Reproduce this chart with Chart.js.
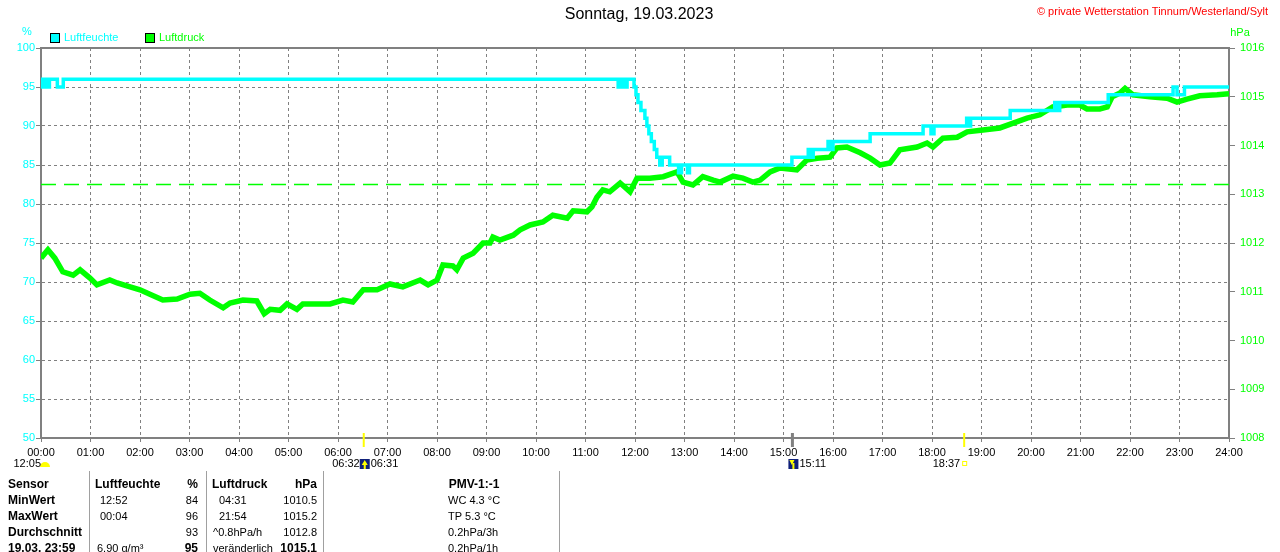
<!DOCTYPE html>
<html>
<head>
<meta charset="utf-8">
<script src="https://cdn.jsdelivr.net/npm/chart.js@4/dist/chart.umd.min.js"></script>
<style>
  html, body { margin: 0; padding: 0; background: #fff; overflow: hidden; }
  canvas { display: block; }
</style>
</head>
<body>
<canvas id="wetter" width="1280" height="552"></canvas>
<script>
// --- Daten (Stunden seit Mitternacht) ---
const TITLE = 'Sonntag, 19.03.2023';
const COPYRIGHT = '\u00a9 private Wetterstation Tinnum/Westerland/Sylt';
const SERIES = ['Luftfeuchte', 'Luftdruck'];
const UNITS = ['%', 'hPa'];

// Luftfeuchte % (Wert gilt ab dem Zeitpunkt bis zum nächsten)
const humT = [0, 0.03, 0.06, 0.1, 0.14, 0.17, 0.33, 0.45, 11.66, 11.69, 11.72, 11.76, 11.8, 11.84, 11.98,
  12.02, 12.06, 12.12, 12.2, 12.24, 12.28, 12.33, 12.39, 12.44, 12.5, 12.55, 12.7, 12.88, 12.94, 13.06, 13.1,
  15.17, 15.5, 15.56, 15.6, 15.9, 15.95, 16.0, 16.75, 17.82, 17.98, 18.04,
  18.7, 18.74, 18.78, 19.58, 20.48, 20.55, 20.58, 21.56, 22.87, 22.95, 23.1, 24];
const humV = [95, 96, 95, 96, 95, 96, 95, 96, 95, 96, 95, 96, 95, 96, 95,
  94, 93, 92, 91, 90, 89, 88, 87, 86, 85, 86, 85, 84, 85, 84, 85,
  86, 87, 86, 87, 88, 87, 88, 89, 90, 89, 90,
  91, 90, 91, 92, 93, 92, 93, 94, 95, 94, 95, 95];

// Luftdruck hPa
const presT = [0, 0.14, 0.28, 0.44, 0.65, 0.79, 0.99, 1.13, 1.39, 1.54, 1.8, 2.0, 2.2, 2.46, 2.75, 3.01, 3.21, 3.41, 3.68, 3.82,
  4.08, 4.36, 4.51, 4.63, 4.83, 4.97, 5.17, 5.29, 5.84, 6.1, 6.3, 6.51, 6.79, 7.05, 7.31, 7.66, 7.82, 8.0, 8.12, 8.32,
  8.4, 8.53, 8.73, 8.93, 9.07, 9.13, 9.27, 9.54, 9.68, 9.88, 10.14, 10.34, 10.63, 10.75, 11.03, 11.13, 11.23, 11.35, 11.49, 11.7,
  11.9, 12.04, 12.3, 12.57, 12.85, 12.97, 13.17, 13.37, 13.58, 13.72, 13.98, 14.18, 14.38, 14.53, 14.73, 14.93, 15.27, 15.47, 15.68, 15.94,
  16.08, 16.28, 16.55, 16.75, 16.95, 17.15, 17.35, 17.7, 17.9, 18.02, 18.22, 18.51, 18.71, 19.03, 19.37, 19.64, 19.92, 20.18, 20.44, 20.73,
  20.99, 21.13, 21.39, 21.54, 21.64, 21.8, 21.9, 22.06, 22.4, 22.75, 22.95, 23.15, 23.41, 23.76, 24];
const presV = [1011.69, 1011.86, 1011.69, 1011.41, 1011.34, 1011.45, 1011.28, 1011.14, 1011.24, 1011.18, 1011.1, 1011.04, 1010.95, 1010.83, 1010.85, 1010.95, 1010.97, 1010.83, 1010.67, 1010.77,
  1010.83, 1010.81, 1010.55, 1010.64, 1010.62, 1010.75, 1010.64, 1010.75, 1010.75, 1010.83, 1010.79, 1011.04, 1011.04, 1011.16, 1011.1, 1011.24, 1011.14, 1011.24, 1011.55, 1011.53,
  1011.45, 1011.69, 1011.79, 1012.0, 1012.0, 1012.12, 1012.06, 1012.16, 1012.27, 1012.37, 1012.43, 1012.57, 1012.51, 1012.66, 1012.64, 1012.74, 1012.94, 1013.09, 1013.05, 1013.23,
  1013.05, 1013.33, 1013.33, 1013.36, 1013.46, 1013.25, 1013.19, 1013.36, 1013.29, 1013.25, 1013.37, 1013.33, 1013.25, 1013.29, 1013.46, 1013.54, 1013.5, 1013.7, 1013.74, 1013.76,
  1013.95, 1013.97, 1013.85, 1013.74, 1013.6, 1013.64, 1013.91, 1013.97, 1014.05, 1013.97, 1014.15, 1014.17, 1014.28, 1014.32, 1014.36, 1014.46, 1014.56, 1014.63, 1014.79, 1014.83,
  1014.83, 1014.75, 1014.75, 1014.79, 1015.0, 1015.08, 1015.17, 1015.04, 1015.0, 1014.97, 1014.89, 1014.95, 1015.02, 1015.04, 1015.06];
const presRef = 1013.2;

// Achsen
const hours = [0, 24];
const humRange = [50, 100, 5];
const presRange = [1008, 1016, 1];

// Sonne / Mond
const astroT = [0, 6.52, 15.18, 18.65];
const astroLeft = ['12:05', '06:32', '', '18:37'];
const astroRight = ['', '06:31', '15:11', ''];
const astroKind = ['moon', 'sunrise', 'moonset', 'sunset'];

// Tabelle
const tableHead = ['Sensor', 'Luftfeuchte', '%', 'Luftdruck', 'hPa', 'PMV-1:-1'];
const rowLabels = ['MinWert', 'MaxWert', 'Durchschnitt', '19.03. 23:59'];
const humTimes = ['12:52', '00:04', '', '6.90 g/m\u00b3'];
const humVals = ['84', '96', '93', '95'];
const presTimes = ['04:31', '21:54', '^0.8hPa/h', 'ver\u00e4nderlich'];
const presVals = ['1010.5', '1015.2', '1012.8', '1015.1'];
const pmvVals = ['WC 4.3 \u00b0C', 'TP 5.3 \u00b0C', '0.2hPa/3h', '0.2hPa/1h'];

const CYAN = '#00ffff', GREEN = '#00ff00', GRID = '#808080';
const FONT = '"Liberation Sans", Arial, sans-serif';

const zip = (a, b) => a.map((x, i) => ({ x: x, y: b[i] }));

// Zusatzbeschriftung rund um den Plot
const decoPlugin = {
  id: 'deco',
  afterDraw(chart) {
    const ctx = chart.ctx;
    const a = chart.chartArea;
    const xs = chart.scales.x;
    ctx.save();

    // obere Rahmenlinie
    ctx.strokeStyle = GRID; ctx.lineWidth = 2;
    ctx.beginPath(); ctx.moveTo(a.left - 1, a.top); ctx.lineTo(a.right + 1, a.top); ctx.stroke();

    // Titel + Copyright
    ctx.textBaseline = 'middle';
    ctx.fillStyle = '#000'; ctx.font = '16px ' + FONT; ctx.textAlign = 'center';
    ctx.fillText(TITLE, 639, 15);
    ctx.fillStyle = '#ff0000'; ctx.font = '11px ' + FONT; ctx.textAlign = 'right';
    ctx.fillText(COPYRIGHT, 1268, 12);

    // Einheiten
    ctx.font = '11px ' + FONT; ctx.textAlign = 'center';
    ctx.fillStyle = CYAN; ctx.fillText(UNITS[0], 27, 32);
    ctx.fillStyle = GREEN; ctx.fillText(UNITS[1], 1240, 33);

    // Legende
    const cols = [CYAN, GREEN];
    const lx = [50, 145];
    ctx.textAlign = 'left';
    SERIES.forEach((s, i) => {
      ctx.fillStyle = cols[i];
      ctx.fillRect(lx[i], 33, 10, 10);
      ctx.strokeStyle = '#000'; ctx.lineWidth = 1;
      ctx.strokeRect(lx[i] + 0.5, 33.5, 9, 9);
      ctx.fillText(s, lx[i] + 14, 38);
    });

    // Sonne / Mond Marker
    ctx.font = '11px ' + FONT;
    astroT.forEach((t, i) => {
      const px = xs.getPixelForValue(t);
      const k = astroKind[i];
      if (k === 'sunrise' || k === 'sunset') {
        ctx.strokeStyle = '#ffff00'; ctx.lineWidth = 2;
        ctx.beginPath(); ctx.moveTo(px, a.bottom - 5); ctx.lineTo(px, a.bottom + 9); ctx.stroke();
      } else if (k === 'moonset') {
        ctx.strokeStyle = GRID; ctx.lineWidth = 3;
        ctx.beginPath(); ctx.moveTo(px, a.bottom - 5); ctx.lineTo(px, a.bottom + 9); ctx.stroke();
      }
      let ix;
      if (k === 'moon') {
        ix = px + 4;
        ctx.fillStyle = '#ffff00';
        ctx.beginPath(); ctx.arc(ix, 467, 5, Math.PI, 0); ctx.fill();
      } else if (k === 'sunrise' || k === 'moonset') {
        ix = px;
        ctx.fillStyle = '#10207a';
        ctx.fillRect(ix - 4, 459, 10, 10);
        ctx.fillStyle = '#ffff00';
        ctx.beginPath();
        if (k === 'sunrise') { ctx.moveTo(ix + 1, 460); ctx.lineTo(ix - 2, 465); ctx.lineTo(ix + 4, 465); }
        else { ctx.moveTo(ix - 3, 460); ctx.lineTo(ix + 2, 460); ctx.lineTo(ix - 0.5, 465); }
        ctx.fill();
        ctx.fillRect(ix, 463, 2, 6);
      } else {
        ix = px;
        ctx.strokeStyle = '#ffff00'; ctx.lineWidth = 1;
        ctx.strokeRect(ix - 1.5, 461.5, 4, 4);
      }
      ctx.fillStyle = '#000';
      if (astroLeft[i]) { ctx.textAlign = 'right'; ctx.fillText(astroLeft[i], ix - 4, 464); }
      if (astroRight[i]) { ctx.textAlign = 'left'; ctx.fillText(astroRight[i], ix + 7, 464); }
    });

    // Tabelle
    ctx.strokeStyle = '#a0a0a0'; ctx.lineWidth = 1;
    [89, 206, 323, 559].forEach(x => {
      ctx.beginPath(); ctx.moveTo(x + 0.5, 471); ctx.lineTo(x + 0.5, 552); ctx.stroke();
    });
    const bold = '700 12px ' + FONT, reg = '11px ' + FONT;
    const y0 = 485, dy = 16;
    const txt = (s, x, y, align, f) => { ctx.font = f; ctx.textAlign = align; ctx.fillText(s, x, y); };
    ctx.fillStyle = '#000';
    txt(tableHead[0], 8, y0, 'left', bold);
    txt(tableHead[1], 95, y0, 'left', bold);
    txt(tableHead[2], 198, y0, 'right', bold);
    txt(tableHead[3], 212, y0, 'left', bold);
    txt(tableHead[4], 317, y0, 'right', bold);
    txt(tableHead[5], 474, y0, 'center', bold);
    const isTime = s => /^\d\d:\d\d$/.test(s);
    rowLabels.forEach((r, i) => {
      const y = y0 + dy * (i + 1);
      const last = i === rowLabels.length - 1;
      txt(r, 8, y, 'left', bold);
      txt(humTimes[i], isTime(humTimes[i]) ? 100 : 97, y, 'left', reg);
      txt(humVals[i], 198, y, 'right', last ? bold : reg);
      txt(presTimes[i], isTime(presTimes[i]) ? 219 : 213, y, 'left', reg);
      txt(presVals[i], 317, y, 'right', last ? bold : reg);
      txt(pmvVals[i], 448, y, 'left', reg);
    });

    ctx.restore();
  }
};

const dashGrid = {
  color: GRID, lineWidth: 1, borderDash: [3, 3],
  tickColor: GRID, tickBorderDash: [], tickWidth: 1
};

new Chart(document.getElementById('wetter'), {
  type: 'line',
  data: {
    datasets: [
      { label: SERIES[0], data: zip(humT, humV), yAxisID: 'yH', borderColor: CYAN, borderWidth: 3.5,
        stepped: 'before', pointRadius: 0, order: 1 },
      { label: SERIES[1], data: zip(presT, presV), yAxisID: 'yP', borderColor: GREEN, borderWidth: 5.5,
        pointRadius: 0, tension: 0, order: 2 },
      { label: 'Referenz', data: zip(hours, [presRef, presRef]), yAxisID: 'yP', borderColor: GREEN, borderWidth: 1.5,
        borderDash: [15, 8], pointRadius: 0, order: 3 }
    ]
  },
  options: {
    responsive: false,
    animation: false,
    devicePixelRatio: 1,
    layout: { padding: { top: 48 } },
    plugins: { legend: { display: false }, tooltip: { enabled: false } },
    scales: {
      x: {
        type: 'linear', min: hours[0], max: hours[1],
        afterFit: s => { s.height = 114; },
        ticks: { stepSize: 1, autoSkip: false, maxRotation: 0, padding: 4, color: '#000',
          font: { family: FONT, size: 11 },
          callback: v => String(v).padStart(2, '0') + ':00' },
        grid: Object.assign({}, dashGrid, { tickLength: 4 }),
        border: { display: true, color: GRID, width: 2, dash: [3, 3] }
      },
      yH: {
        position: 'left', min: humRange[0], max: humRange[1],
        afterFit: s => { s.width = 41; },
        ticks: { stepSize: humRange[2], padding: 1, color: CYAN, font: { family: FONT, size: 11 },
          callback: v => String(v) },
        grid: Object.assign({}, dashGrid, { tickLength: 5 }),
        border: { display: true, color: GRID, width: 2, dash: [3, 3] }
      },
      yP: {
        position: 'right', min: presRange[0], max: presRange[1],
        afterFit: s => { s.width = 51; },
        ticks: { stepSize: presRange[2], padding: 5, color: GREEN, font: { family: FONT, size: 11 },
          callback: v => String(v) },
        grid: { drawOnChartArea: false, tickLength: 6, tickColor: GRID, tickWidth: 1 },
        border: { display: true, color: GRID, width: 2 }
      }
    }
  },
  plugins: [decoPlugin]
});
</script>
</body>
</html>
